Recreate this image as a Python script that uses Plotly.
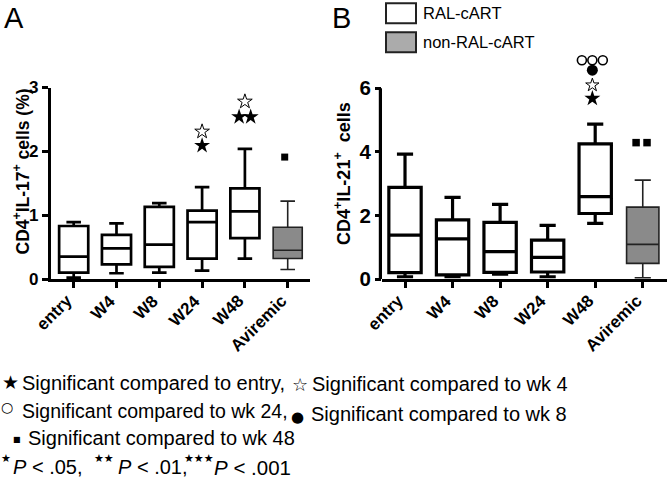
import plotly.graph_objects as go

W, H = 670, 479

categories = ["entry", "W4", "W8", "W24", "W48", "Aviremic"]

# Panel A: CD4+ IL-17+ cells (%)
a_low = [0.02, 0.09, 0.10, 0.13, 0.32, 0.15]
a_q1 = [0.10, 0.23, 0.19, 0.32, 0.64, 0.32]
a_med = [0.35, 0.48, 0.54, 0.89, 1.06, 0.45]
a_q3 = [0.83, 0.69, 1.13, 1.07, 1.42, 0.81]
a_high = [0.89, 0.87, 1.19, 1.44, 2.04, 1.22]

# Panel B: CD4+ IL-21+ cells
b_low = [0.07, 0.07, 0.15, 0.07, 1.75, 0.04]
b_q1 = [0.20, 0.13, 0.21, 0.22, 2.06, 0.49]
b_med = [1.38, 1.26, 0.86, 0.68, 2.59, 1.09]
b_q3 = [2.88, 1.86, 1.78, 1.22, 4.25, 2.26]
b_high = [3.93, 2.57, 2.35, 1.69, 4.87, 3.11]

# significance symbols (category, offset within category, y value)
a_star_cat, a_star_off, a_star_y = ["W24", "W48", "W48"], [0, -0.135, 0.135], [2.09, 2.54, 2.54]
a_ostar_cat, a_ostar_off, a_ostar_y = ["W24", "W48"], [0, 0], [2.31, 2.78]
a_sq_cat, a_sq_off, a_sq_y = ["Aviremic"], [-0.07], [1.91]

b_star_cat, b_star_off, b_star_y = ["W48"], [-0.06], [5.68]
b_ostar_cat, b_ostar_off, b_ostar_y = ["W48"], [-0.06], [6.10]
b_dot_cat, b_dot_off, b_dot_y = ["W48"], [-0.06], [6.57]
b_ocirc_cat, b_ocirc_off, b_ocirc_y = ["W48", "W48", "W48"], [-0.28, -0.06, 0.16], [6.88, 6.88, 6.88]
b_sq_cat, b_sq_off, b_sq_y = ["Aviremic", "Aviremic"], [-0.14, 0.09], [4.29, 4.29]

ral_n = 5  # first five categories are RAL-cART, last is non-RAL (aviremic)
pos = list(range(len(categories)))

GRAY_BOX = "#8a8a8a"
GRAY_LEG = "#ababab"
FONT = "Liberation Sans, Arial, sans-serif"
SYM = "DejaVu Sans, sans-serif"


def xpos(cats, offs):
    return [categories.index(c) + o for c, o in zip(cats, offs)]


fig = go.Figure()


def add_boxes(low, q1, med, q3, high, xa, ya, lw_ral):
    fig.add_trace(go.Box(
        x=pos[:ral_n], q1=q1[:ral_n], median=med[:ral_n], q3=q3[:ral_n],
        lowerfence=low[:ral_n], upperfence=high[:ral_n],
        width=0.68, whiskerwidth=0.5, fillcolor="white",
        line=dict(color="black", width=lw_ral), boxpoints=False,
        xaxis=xa, yaxis=ya, showlegend=False, hoverinfo="skip"))
    fig.add_trace(go.Box(
        x=pos[ral_n:], q1=q1[ral_n:], median=med[ral_n:], q3=q3[ral_n:],
        lowerfence=low[ral_n:], upperfence=high[ral_n:],
        width=0.68, whiskerwidth=0.5, fillcolor=GRAY_BOX,
        line=dict(color="#222222", width=1.6), boxpoints=False,
        xaxis=xa, yaxis=ya, showlegend=False, hoverinfo="skip"))


def add_sym(cats, offs, ys, symbol, size, xa, ya, lw=0):
    fig.add_trace(go.Scatter(
        x=xpos(cats, offs), y=ys, mode="markers", cliponaxis=False,
        marker=dict(symbol=symbol, size=size, color="black",
                    line=dict(color="black", width=lw)),
        xaxis=xa, yaxis=ya, showlegend=False, hoverinfo="skip"))


add_boxes(a_low, a_q1, a_med, a_q3, a_high, "x", "y", 2.7)
add_boxes(b_low, b_q1, b_med, b_q3, b_high, "x2", "y2", 3.2)

add_sym(a_star_cat, a_star_off, a_star_y, "star", 12, "x", "y")
add_sym(a_ostar_cat, a_ostar_off, a_ostar_y, "star-open", 11, "x", "y", 1)
add_sym(a_sq_cat, a_sq_off, a_sq_y, "square", 7, "x", "y")
add_sym(b_star_cat, b_star_off, b_star_y, "star", 12, "x2", "y2")
add_sym(b_ostar_cat, b_ostar_off, b_ostar_y, "star-open", 10, "x2", "y2", 1)
add_sym(b_dot_cat, b_dot_off, b_dot_y, "circle", 11, "x2", "y2")
add_sym(b_ocirc_cat, b_ocirc_off, b_ocirc_y, "circle-open", 9, "x2", "y2", 1.6)
add_sym(b_sq_cat, b_sq_off, b_sq_y, "square", 7.5, "x2", "y2")


def px(x):
    return x / W


def py(y):
    return 1 - y / H


b_top = 7.2  # panel B range extends above the last tick to hold the symbols
ydomA = [py(279), py(87.5)]
ydomB = [py(279), py(88.3 - (b_top - 6) * 31.8)]

common_x = dict(showgrid=False, zeroline=False, showline=True, linecolor="black",
                ticks="outside", ticklen=6, tickcolor="black",
                tickmode="array", tickvals=pos, ticktext=categories,
                showticklabels=False, automargin=False, fixedrange=True)
common_y = dict(showgrid=False, zeroline=False, linecolor="black",
                ticks="outside", ticklen=6, tickcolor="black",
                automargin=False, fixedrange=True)

fig.update_layout(
    width=W, height=H, margin=dict(l=0, r=0, t=0, b=0),
    paper_bgcolor="white", plot_bgcolor="white", boxmode="overlay",
    font=dict(family=FONT, color="black"),
    xaxis=dict(domain=[px(50.7), px(310)], range=[-0.537, 5.521], anchor="y",
               linewidth=2.8, tickwidth=2.5, **common_x),
    yaxis=dict(domain=ydomA, range=[0, 3], anchor="x", tickvals=[0, 1, 2, 3],
               showline=True, linewidth=2.8, tickwidth=2.5,
               tickfont=dict(family=FONT, size=17, color="black", weight="bold"),
               **common_y),
    xaxis2=dict(domain=[px(382), px(667)], range=[-0.484, 5.51], anchor="y2",
                linewidth=3.2, tickwidth=2.8, **common_x),
    yaxis2=dict(domain=ydomB, range=[0, b_top], anchor="x2", tickvals=[0, 2, 4, 6],
                showline=False, tickwidth=2.8,
                tickfont=dict(family=FONT, size=20.5, color="black", weight="bold"),
                **common_y),
)

# panel B y-axis line only up to the last tick (6)
fig.add_shape(type="line", xref="x2 domain", yref="y2", x0=-0.0056, x1=-0.0056, y0=-0.05, y1=6,
              line=dict(color="black", width=3.2), layer="above")

ann = []


def text(x, y, s, size, family=FONT, xanchor="left", bold=False, angle=0):
    ann.append(dict(x=px(x), y=py(y), xref="paper", yref="paper", text=s,
                    showarrow=False, xanchor=xanchor, yanchor="middle",
                    textangle=angle,
                    font=dict(family=family, size=size, color="black",
                              weight="bold" if bold else "normal")))


# rotated category labels under both x axes
for xr in ["x", "x2"]:
    for i, c in enumerate(categories):
        ann.append(dict(x=i, y=py(290), xref=xr, yref="paper", text=c,
                        showarrow=False, xanchor="right", yanchor="top",
                        textangle=-45, xshift=4, borderpad=0,
                        font=dict(family=FONT, size=17, color="black", weight="bold")))

# panel letters
text(2, 18, "A", 29)
text(330, 18, "B", 29)

# axis titles
text(21, 171.5, "CD4<sup>+</sup>IL-17<sup>+</sup> cells (%)", 17.5, xanchor="center", bold=True, angle=-90)
text(342, 174, "CD4<sup>+</sup>IL-21<sup>+</sup>  cells", 18, xanchor="center", bold=True, angle=-90)

# legend (top of panel B)
fig.add_shape(type="rect", xref="paper", yref="paper", x0=px(386), x1=px(416), y0=py(23.3), y1=py(3.3),
              line=dict(color="#222222", width=2), fillcolor="white")
fig.add_shape(type="rect", xref="paper", yref="paper", x0=px(386), x1=px(416), y0=py(52.3), y1=py(32.3),
              line=dict(color="#222222", width=2), fillcolor=GRAY_LEG)
text(421, 13.5, "RAL-cART", 16.5)
text(421, 42.5, "non-RAL-cART", 16.5)

# significance key below the charts
text(10, 382, "★", 19, family=SYM, xanchor="center")
text(20, 383, "Significant compared to entry,", 20)
text(300, 384, "☆", 18, family=SYM, xanchor="center")
text(310, 384, "Significant compared to wk 4", 20)
text(7, 407, "○", 14, family=SYM, xanchor="center")
text(20, 411, "Significant compared to wk 24,", 19.5)
text(297, 417, "●", 15, family=SYM, xanchor="center")
text(309, 414, "Significant compared to wk 8", 20)
text(16.5, 439, "■", 8, family=SYM, xanchor="center")
text(26, 437.5, "Significant compared to wk 48", 20)
text(6, 458, "★", 11, family=SYM, xanchor="center")
text(11, 467, "<i>P</i> < .05,", 20)
text(104, 458, "★★", 11, family=SYM, xanchor="center")
text(116, 467, "<i>P</i> < .01,", 20)
text(199, 458, "★★★", 11, family=SYM, xanchor="center")
text(212, 467, "<i>P</i> < .001", 20.5)

fig.update_layout(annotations=ann)

fig.write_html("out.html", config={"displayModeBar": False},
               post_script="document.body.style.margin='0';")
